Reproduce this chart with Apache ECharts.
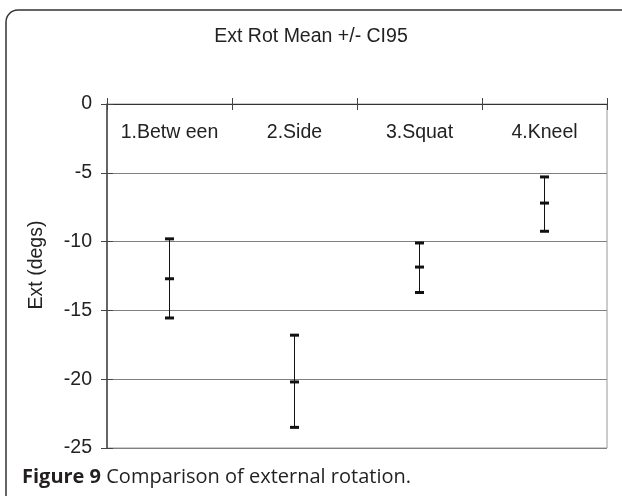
<!DOCTYPE html>
<html>
<head>
<meta charset="utf-8">
<style>
  html, body, #main { margin: 0; width: 622px; height: 496px; background: #fff; }
</style>
<script src="https://cdn.jsdelivr.net/npm/echarts@6/dist/echarts.min.js"></script>
</head>
<body>
<div id="main"></div>
<script>
// values (degrees)
var categories = ['1.Betw een', '2.Side', '3.Squat', '4.Kneel'];
var means = [-12.7, -20.2, -11.85, -7.2];
var upper = [-9.8, -16.8, -10.1, -5.3];
var lower = [-15.55, -23.5, -13.7, -9.25];
var yTicks = [0, -5, -10, -15, -20, -25];

var chart = echarts.init(document.getElementById('main'), null, { renderer: 'canvas' });

var barData = categories.map(function (c, i) { return [i, means[i], upper[i], lower[i]]; });

function renderBar(params, api) {
  var i = api.value(0);
  var pm = api.coord([i, api.value(1)]);
  var pu = api.coord([i, api.value(2)]);
  var pl = api.coord([i, api.value(3)]);
  var hw = 4.5;
  var capStyle = { fill: '#111' };
  return {
    type: 'group',
    children: [
      { type: 'line', shape: { x1: pu[0], y1: pu[1], x2: pl[0], y2: pl[1] }, style: { stroke: '#111', lineWidth: 1 } },
      { type: 'rect', shape: { x: pu[0] - hw, y: pu[1] - 1.5, width: hw * 2, height: 3 }, style: capStyle },
      { type: 'rect', shape: { x: pm[0] - hw, y: pm[1] - 1.5, width: hw * 2, height: 3 }, style: capStyle },
      { type: 'rect', shape: { x: pl[0] - hw, y: pl[1] - 1.5, width: hw * 2, height: 3 }, style: capStyle }
    ]
  };
}

var tickColor = '#444';
var gridBox = { left: 107, top: 104, right: 15, bottom: 48 };

chart.setOption({
  animation: false,
  textStyle: { fontFamily: 'Liberation Sans, Arial, sans-serif' },
  title: {
    text: 'Ext Rot Mean +/- CI95',
    left: 'center',
    top: 22,
    textStyle: { fontSize: 19.5, fontWeight: 'normal', color: '#222', fontFamily: 'Liberation Sans' }
  },
  graphic: [
    {
      type: 'rect',
      shape: { x: 6, y: 10, width: 700, height: 560, r: 12 },
      style: { fill: 'none', stroke: '#333', lineWidth: 1.5 },
      silent: true
    },
    {
      type: 'text',
      left: 22,
      top: 467,
      style: {
        text: '{b|Figure 9} Comparison of external rotation.',
        fill: '#231f20',
        font: '20px "Open Sans", sans-serif',
        rich: { b: { fontWeight: 'bold', fontSize: 20, fontFamily: 'Open Sans', fill: '#231f20' } }
      }
    }
  ],
  grid: [
    Object.assign({ show: true, borderColor: '#999', borderWidth: 1 }, gridBox),
    Object.assign({}, gridBox)
  ],
  xAxis: [{
    type: 'category',
    gridIndex: 0,
    position: 'top',
    data: categories,
    axisLine: { onZero: false, lineStyle: { color: '#333', width: 1 } },
    axisTick: { show: true, length: 6, lineStyle: { color: tickColor } },
    axisLabel: { interval: 0, inside: true, margin: 19, fontSize: 19.5, color: '#222' },
    splitLine: { show: false }
  }, {
    // inward half of the crossing tick marks
    type: 'category',
    gridIndex: 1,
    position: 'top',
    data: categories,
    axisLine: { show: false, onZero: false },
    axisTick: { show: true, inside: true, length: 6, lineStyle: { color: tickColor } },
    axisLabel: { show: false },
    splitLine: { show: false }
  }],
  yAxis: [{
    type: 'value',
    gridIndex: 0,
    min: -25, max: 0, interval: 5,
    name: 'Ext (degs)',
    nameLocation: 'middle',
    nameGap: 60,
    nameTextStyle: { fontSize: 19.5, color: '#222', padding: [0, 0, 0, 22] },
    axisLine: { show: true, lineStyle: { color: '#444', width: 1.5 } },
    axisTick: { show: true, length: 6, lineStyle: { color: tickColor } },
    axisLabel: {
      fontSize: 19.5, color: '#222', margin: 15,
      formatter: function (v) { return yTicks.indexOf(v) >= 0 ? String(v) : ''; }
    },
    splitLine: { show: true, lineStyle: { color: '#808080', width: 1 } }
  }, {
    type: 'value',
    gridIndex: 1,
    position: 'left',
    min: -25, max: 0, interval: 5,
    axisLine: { show: false },
    axisTick: { show: true, inside: true, length: 6, lineStyle: { color: tickColor } },
    axisLabel: { show: false },
    splitLine: { show: false }
  }],
  series: [{
    type: 'custom',
    xAxisIndex: 0,
    yAxisIndex: 0,
    renderItem: renderBar,
    data: barData,
    encode: { x: 0, y: [1, 2, 3] },
    z: 5
  }]
});
</script>
</body>
</html>
